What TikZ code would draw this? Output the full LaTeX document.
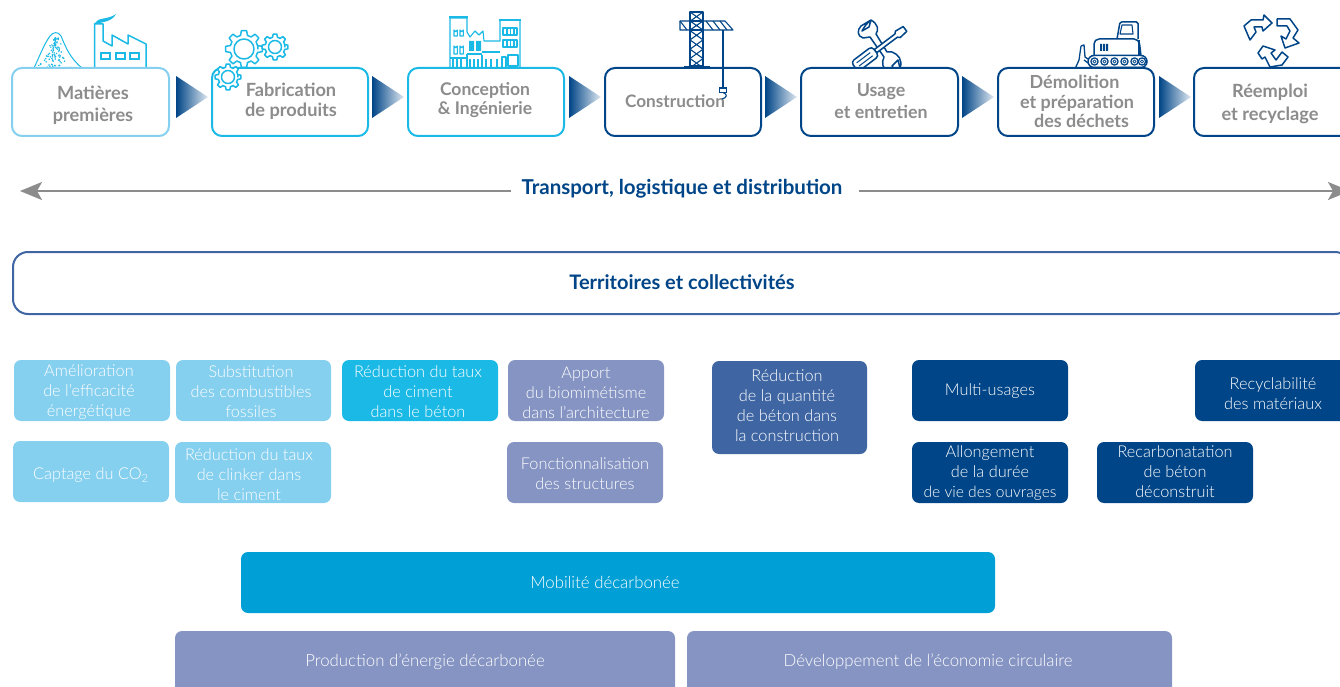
\documentclass[tikz,border=0pt]{standalone}
\usepackage{fontspec}
\setmainfont{Lato}
\newfontfamily\lightf{Lato Light}
\usetikzlibrary{arrows.meta,shadings,calc}
\definecolor{pale}{HTML}{85CFEF}
\definecolor{cyanb}{HTML}{1BB9E6}
\definecolor{navy}{HTML}{004587}
\definecolor{midblue}{HTML}{3F66A3}
\definecolor{lav}{HTML}{8594C2}
\definecolor{mobi}{HTML}{009FD6}
\definecolor{gr}{HTML}{8C8C8C}
\tikzset{
 x=1pt,y=-1pt,
 procbox/.style={draw,fill=white,line width=2pt,rounded corners=10pt,inner sep=0pt,outer sep=0pt},
 proctext/.style={font=\fontsize{18.2}{20.5}\selectfont\bfseries,text=gr,align=center,inner sep=0pt,yshift=-1.5pt},
 cellbox/.style={rounded corners=7pt,inner sep=0pt,outer sep=0pt,draw=none},
 celltext/.style={font=\fontsize{16.3}{20}\selectfont\lightf,text=white,align=center,inner sep=0pt,yshift=-1.2pt},
 bartext/.style={font=\fontsize{20.5}{24}\selectfont\bfseries,text=navy,align=center,inner sep=0pt},
 icon/.style={line width=1.5pt,line join=round,fill=white},
 iconline/.style={line width=1.1pt,line join=round},
 flowline/.style={draw=gr,line width=2pt,-{Stealth[length=22pt,width=18pt,inset=5pt]}},
}
\newcommand{\procbox}[4]{%
 \pgfmathsetmacro\myw{#3-#2}\pgfmathsetmacro\mycx{(#3+#2)/2}%
 \node[procbox,draw=#4,minimum width=\myw pt,minimum height=68pt] (#1) at (\mycx,102) {};%
}
\newcommand{\cellb}[9]{%
 \pgfmathsetmacro\myw{#4-#2}\pgfmathsetmacro\myh{#5-#3}%
 \pgfmathsetmacro\mycx{(#4+#2)/2}\pgfmathsetmacro\mycy{(#5+#3)/2}%
 \node[cellbox,fill=#6,minimum width=\myw pt,minimum height=\myh pt] (#1) at (\mycx,\mycy) {};%
 \node[celltext] (#1t) at (#7,#8) {#9};%
}
\newcommand{\tri}[1]{%
 \path[left color=navy,right color=navy!12,draw=none] (#1,76) -- (#1+32,97) -- (#1,118) -- cycle;%
}
\newcommand{\mygear}[6]{% cx cy Rout Rbase Rin teeth
 \begin{scope}[shift={(#1,#2)}]
 \def\st{360/#6}
 \draw[icon,draw=cyanb] (0:#4) \foreach \i in {1,...,#6}{
   -- ({(\i-1)*\st-0.32*\st}:#4) -- ({(\i-1)*\st-0.18*\st}:#3) -- ({(\i-1)*\st+0.18*\st}:#3) -- ({(\i-1)*\st+0.32*\st}:#4)
   -- ({(\i-1)*\st+0.68*\st}:#4)} -- cycle;
 \draw[icon,draw=cyanb] (0,0) circle[radius=#5];
 \end{scope}
}
\begin{document}
\begin{tikzpicture}
\useasboundingbox (0,0) rectangle (1340,687);
\clip (0,0) rectangle (1340,687);

% --- icons behind boxes ---
% pile
\draw[icon,draw=cyanb,line width=1pt] (33,70) .. controls (38,60) and (44,44) .. (50,36) .. controls (53,32) and (58,31) .. (61,36) .. controls (66,48) and (70,58) .. (82,68) -- (82,70) -- cycle;
\pgfmathsetseed{11}
\foreach \k in {1,...,95}{
  \pgfmathsetmacro\py{38+rnd*30}
  \pgfmathsetmacro\px{36+(68-\py)*0.58+rnd*(\py-38)*1.0+rnd*6}
  \fill[cyanb] (\px,\py) circle[radius=0.85];
}
% factory
\draw[icon,draw=cyanb] (94.5,68) -- (94.5,24) -- (103,24) -- (103,41) -- (112,46) -- (112,35) -- (128,44) -- (128,35) -- (146,44) -- (146,68) -- cycle;
\fill[cyanb] (95,23) .. controls (98,17) and (108,20) .. (116,14) .. controls (112,22) and (102,22) .. (95,24) -- cycle;
\foreach \wx in {101,116,130}{\draw[cyanb,line width=1.5pt] (\wx,53) rectangle (\wx+9,59);}
% gears
\mygear{244}{49}{18.5}{14}{10}{8}
\mygear{275}{47}{13}{10}{6.5}{8}

% buildings
\begin{scope}[draw=cyanb,iconline]
\draw[fill=white] (450,68) -- (450,18) -- (467,18) -- (467,32) -- (470,37) -- (475,31) -- (479,35) -- (483,31) -- (484,41) -- (500,41) -- (500,20) -- (520,20) -- (520,68) -- cycle;
\draw[cyanb,line width=2.4pt] (449,17) -- (468,17) (499,20) -- (521,20) (482,52) -- (500,52) (467,54) -- (467,68);
\foreach \wx in {454,460}{\draw (\wx,36) -- (\wx,30) arc(180:0:1.7) -- (\wx+3.4,36) -- cycle;\draw (\wx,54) -- (\wx,46) arc(180:0:1.7) -- (\wx+3.4,54) -- cycle;}
\draw (503,28) rectangle (517,35) (503,40) rectangle (517,47);
\foreach \wx in {507,510.5,514}{\draw (\wx,28) -- (\wx,35) (\wx,40) -- (\wx,47);}
\fill[cyanb] (469,41) rectangle (474,51) (476,41) rectangle (481,51);
\draw (467,54) -- (482,54) (450,58) -- (467,58) (482,55) -- (482,68);
\foreach \wx in {453,457,461,470,474,478,486,491,497}{\draw (\wx,59) -- (\wx,68);}
\draw (508,55) rectangle (518,66) (502,57) rectangle (506,68);
\end{scope}

% crane
\begin{scope}[draw=navy,iconline]
\draw (690,12) rectangle (703,66);
\foreach \yy in {12,21.3,30.6,39.9,49.2,58.5}{\draw (690,\yy) -- (703,\yy+9.3) (703,\yy) -- (690,\yy+9.3);}
\draw[fill=white] (680,21) -- (725,21) -- (733,30) -- (680,30) -- cycle;
\foreach \xx in {680,706,713,720}{\draw (\xx,21) -- (\xx+7,30);}
\draw[fill=white] (690,21) rectangle (703,30);
\draw (690,21) -- (703,30) (703,21) -- (690,30);
\draw[line width=2pt] (684,67) -- (710,67);
\end{scope}

% wrench
\draw[icon,draw=navy,line width=1.5pt] (871,20) -- (861,26) .. controls (857,30) and (857,36) .. (863,38) -- (870,37) -- (884,57) .. controls (881,63) and (883,69) .. (888,72) -- (896,72) -- (892,66) -- (898,60) -- (900,68) .. controls (903,60) and (898,54) .. (892,52) -- (887,52) -- (876,34) .. controls (879,30) and (878,24) .. (871,20) -- (869,27) -- (862,31) .. controls (864,27) and (867,23) .. (871,20);
% screwdriver
\begin{scope}[shift={(881,47)},rotate=37]
\draw[icon,draw=navy,line width=1.5pt] (-7,-2) -- (19,-2) -- (21,-4) -- (30,-3) -- (30,3) -- (21,4) -- (19,2) -- (-7,2) -- cycle;
\draw[icon,draw=navy,line width=1.5pt,rounded corners=3.5pt] (-33,-6) rectangle (-7,6);
\draw[navy,line width=1pt] (-29,-2) -- (-12,-2) (-29,2) -- (-12,2);
\end{scope}

% bulldozer
\begin{scope}[draw=navy,line join=round]
\draw[fill=white,line width=1.5pt,rounded corners=1.5pt] (1117,39) -- (1120,22) -- (1138,22) -- (1138,39);
\draw[line width=1.1pt] (1122,25) -- (1132,25) -- (1133,34) -- (1120,34) -- cycle;
\draw[fill=white,line width=1.5pt,rounded corners=5pt] (1094,56) -- (1094,39) -- (1139,39) -- (1141,56);
\fill[navy] (1100,44) rectangle (1102,51) (1103,44) rectangle (1105,51) (1106,44) rectangle (1108,51);
\draw[line width=1.5pt] (1139,40) -- (1139,55);
\draw[fill=white,line width=1.5pt,rounded corners=6pt] (1088,55.5) rectangle (1147,67.5);
\foreach \xx in {1094.5,1104.5,1114.5,1124.5,1134.5,1142}{\draw[line width=1.3pt,fill=white] (\xx,61.5) circle[radius=3.6];}
\foreach \xx in {1094.5,1104.5,1114.5,1124.5,1134.5,1142}{\draw[line width=0.8pt] (\xx,61.5) circle[radius=1.6];}
\draw[line width=1.3pt] (1081,46) -- (1084,45) -- (1085,57) -- (1088,59) (1084,60) -- (1088,63) (1081,46) -- (1079,60) -- (1075,69);
\end{scope}

% recycling
\begin{scope}[draw=navy,line width=1.5pt,line join=round]
\draw (1244,26) -- (1251,20) -- (1263,20) -- (1264,15) -- (1272,23) -- (1263,31) -- (1262,27) -- (1254,27) -- (1256,32) -- (1250,40) -- cycle;
\draw (1277,19) -- (1290,19) -- (1298,30) -- (1293,38) -- (1299,43) -- (1285,48) -- (1281,36) -- (1286,39) -- (1290,31) -- (1287,26) -- (1277,26) -- cycle;
\draw (1258,53) -- (1263,46) -- (1275,50) -- (1271,53) -- (1276,60) -- (1282,52) -- (1288,57) -- (1282,65) -- (1270,67) -- (1265,57) -- (1262,59) -- cycle;
\end{scope}

% --- process boxes ---
\procbox{p1}{12}{169}{pale}
\procbox{p2}{212}{368}{cyanb}
\procbox{p3}{408}{564}{cyanb}
\procbox{p4}{605}{761}{navy}
\procbox{p5}{801}{958}{navy}
\procbox{p6}{998}{1154}{navy}
\procbox{p7}{1194}{1351}{navy}
\node[proctext,font=\fontsize{18.2}{22}\selectfont\bfseries] (t1) at (93,104) {Matières\\premières};
\node[proctext] (t2) at (291,100) {Fabrication\\de produits};
\node[proctext,font=\fontsize{17.5}{19}\selectfont\bfseries] (t3) at (485,99) {Conception\\\& Ingénierie};
\node[proctext,font=\fontsize{17.2}{20}\selectfont\bfseries] (t4) at (675,99.5) {Construction};
\node[proctext,font=\fontsize{17.8}{22}\selectfont\bfseries] (t5) at (881,99.5) {Usage\\et entretien};
\node[proctext,font=\fontsize{18}{19.5}\selectfont\bfseries] (t6) at (1077,100) {Démolition\hspace*{5pt}\\et préparation\\\hspace*{9pt}des déchets};
\node[proctext,font=\fontsize{18.2}{23}\selectfont\bfseries] (t7) at (1270,102) {Réemploi\\et recyclage};

% icons over boxes
\mygear{228}{77}{13}{10}{6.5}{8}
\draw[navy,line width=1.1pt] (723,30) -- (723,88);
\draw[navy,line width=1.1pt,fill=white] (719.5,88) rectangle (726.5,92.5);
\draw[navy,line width=1.1pt] (723,92.5) .. controls (728,94) and (727,98) .. (722,99);

% triangles
\tri{176}\tri{372}\tri{569}\tri{765}\tri{962}\tri{1159}

% transport
\node[bartext] (tr) at (682,189) {Transport, logistique et distribution};
\coordinate (trl) at (20,191);
\coordinate (trr) at (1350,191);
\draw[flowline] ($(tr.west |- trl)+(-10,0)$) -- (trl);
\draw[flowline] ($(tr.east |- trr)+(16,0)$) -- (trr);

% territoires
\node[draw=midblue,fill=white,line width=2pt,rounded corners=15pt,minimum width=1337pt,minimum height=62pt,inner sep=0pt] (terr) at (681.5,283) {};
\node[bartext,font=\fontsize{20}{24}\selectfont\bfseries] (terrt) at (682,282) {Territoires et collectivités};

% cells
\cellb{c1}{14}{360}{170}{421}{pale}{89}{390.5}{Amélioration\\de l’efficacité\\énergétique}
\cellb{c2}{176}{360}{331}{421}{pale}{251}{390.5}{Substitution\\des combustibles\\fossiles}
\cellb{c3}{342}{360}{498}{421}{cyanb}{418}{390}{Réduction du taux\\de ciment\\dans le béton}
\cellb{c4}{508}{360}{664}{421}{lav}{586}{392}{Apport\\du biomimétisme\\dans l’architecture}
\cellb{c5}{13}{441}{169}{502}{pale}{91}{474}{Captage du CO\textsubscript{2}}
\cellb{c6}{175}{442}{331}{503}{pale}{249}{473}{Réduction du taux\\de clinker dans\\le ciment}
\cellb{c7}{507}{442}{663}{503}{lav}{585}{472}{Fonctionnalisation\\des structures}
\cellb{c8}{712}{361}{867}{454}{midblue}{787}{404}{Réduction\\de la quantité\\de béton dans\\la construction}
\cellb{c9}{912}{360}{1068}{421}{navy}{990}{390}{Multi-usages}
\cellb{c10}{912}{442}{1068}{503}{navy}{990}{472}{Allongement\\de la durée\\\fontsize{15.6}{20}\selectfont de vie des ouvrages}
\cellb{c11}{1097}{442}{1253}{503}{navy}{1175}{470}{Recarbonatation\\de béton\\déconstruit}
\cellb{c12}{1195}{360}{1351}{421}{navy}{1273}{392}{Recyclabilité\\des matériaux}
\cellb{c13}{241}{552}{995}{613}{mobi}{605}{581}{\fontsize{16.8}{20}\selectfont Mobilité décarbonée}
\cellb{c14}{175}{631}{675}{700}{lav}{425}{660.5}{\fontsize{16.8}{20}\selectfont Production d’énergie décarbonée}
\cellb{c15}{687}{631}{1172}{700}{lav}{928}{660.5}{\fontsize{16.8}{20}\selectfont Développement de l’économie circulaire}
\end{tikzpicture}
\end{document}
